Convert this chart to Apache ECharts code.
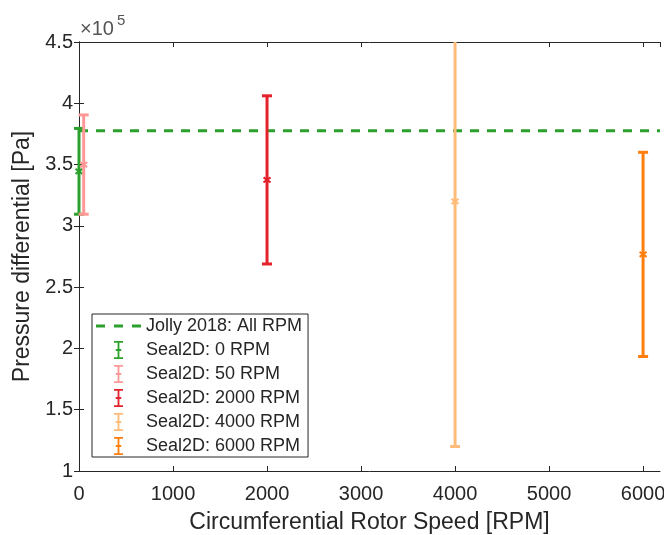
<!DOCTYPE html>
<html>
<head>
<meta charset="utf-8">
<script src="https://cdn.jsdelivr.net/npm/echarts@6/dist/echarts.min.js"></script>
<style>
  html, body { margin: 0; padding: 0; background: #fff; }
  #chart { width: 664px; height: 535px; }
</style>
</head>
<body>
<div id="chart"></div>
<script>
// Rotor speeds (RPM) of the Seal2D runs
const rpm = [0, 50, 2000, 4000, 6000];
// Mean pressure differential (Pa) and the half-width of each error bar (Pa)
const meanPa = [344500, 350000, 337500, 320000, 276700];
const errPa = [35000, 40500, 68600, 200000, 83300];
const seriesNames = ['Seal2D: 0 RPM', 'Seal2D: 50 RPM', 'Seal2D: 2000 RPM', 'Seal2D: 4000 RPM', 'Seal2D: 6000 RPM'];
// Jolly 2018 reference value, constant over the whole speed range
const jollyName = 'Jolly 2018: All RPM';
const jollyRpm = [0, 6180];
const jollyPa = [377600, 377600];
// Axis ranges and tick steps
const xRange = [0, 6180];
const xStep = 1000;
const yRange = [100000, 450000];
const yStep = 50000;
const yScale = 1e5;

const barColors = ['#2ca02c', '#ff9896', '#e4222b', '#ffbb78', '#ff7f0e'];
const jollyColor = '#2ca02c';
const ink = '#262626';
const font = '"Liberation Sans", Arial, Helvetica, sans-serif';

const chart = echarts.init(document.getElementById('chart'), null, { renderer: 'canvas' });

// Vertical error bar with caps and a small cross at the mean
function renderErrorBar(params, api) {
  const color = api.visual('color');
  const x = api.value(0);
  const cs = params.coordSys;
  const pMean = api.coord([x, api.value(1)]);
  const pLo = api.coord([x, api.value(2)]);
  const pHi = api.coord([x, api.value(3)]);
  const yTop = cs.y, yBot = cs.y + cs.height;
  const hiY = Math.max(pHi[1], yTop);
  const loY = Math.min(pLo[1], yBot);
  const cap = 5;
  const st = { stroke: color, lineWidth: 3, fill: null };
  const kids = [
    { type: 'line', shape: { x1: pMean[0], y1: hiY, x2: pMean[0], y2: loY }, style: st }
  ];
  if (pHi[1] >= yTop) kids.push({ type: 'line', shape: { x1: pHi[0] - cap, y1: pHi[1], x2: pHi[0] + cap, y2: pHi[1] }, style: st });
  if (pLo[1] <= yBot) kids.push({ type: 'line', shape: { x1: pLo[0] - cap, y1: pLo[1], x2: pLo[0] + cap, y2: pLo[1] }, style: st });
  const m = 3.5;
  kids.push({ type: 'polyline', shape: { points: [[pMean[0] - m, pMean[1] - 2.5], [pMean[0] + m, pMean[1] + 2.5]] }, style: { stroke: color, lineWidth: 2, fill: null } });
  kids.push({ type: 'polyline', shape: { points: [[pMean[0] - m, pMean[1] + 2.5], [pMean[0] + m, pMean[1] - 2.5]] }, style: { stroke: color, lineWidth: 2, fill: null } });
  return { type: 'group', children: kids };
}

// Legend glyphs: an error bar and a dashed line segment
const barIcon = 'path://M0,0H10V2H6V9H8V11H6V18H10V20H0V18H4V11H2V9H4V2H0Z';
const dashIcon = 'path://M0,0H9V3H0Z M18,0H27V3H18Z M36,0H45V3H36Z';

const barSeries = rpm.map((r, i) => ({
  name: seriesNames[i],
  type: 'custom',
  xAxisIndex: 0,
  yAxisIndex: 0,
  itemStyle: { color: barColors[i] },
  renderItem: renderErrorBar,
  encode: { x: 0, y: [1, 2, 3] },
  data: [[r, meanPa[i], meanPa[i] - errPa[i], meanPa[i] + errPa[i]]],
  z: 3
}));

const axisCommon = {
  axisLine: { show: true, lineStyle: { color: ink, width: 1 } },
  axisTick: { show: true, inside: true, length: 5, lineStyle: { color: ink } },
  splitLine: { show: false }
};

const option = {
  animation: false,
  backgroundColor: '#fff',
  textStyle: { fontFamily: font },
  grid: { left: 79, right: 4, top: 42, bottom: 64, containLabel: false, outerBoundsMode: 'none' },
  xAxis: [
    Object.assign({
      type: 'value', position: 'bottom', min: xRange[0], max: xRange[1], interval: xStep,
      name: 'Circumferential Rotor Speed [RPM]', nameLocation: 'middle', nameGap: 40,
      nameTextStyle: { fontSize: 23, color: ink, fontFamily: font },
      axisLabel: { fontSize: 20, color: ink, margin: 13, showMaxLabel: false, fontFamily: font, formatter: v => String(v) }
    }, axisCommon),
    Object.assign({
      type: 'value', position: 'top', min: xRange[0], max: xRange[1], interval: xStep,
      axisLabel: { show: false }
    }, axisCommon)
  ],
  yAxis: [
    Object.assign({
      type: 'value', position: 'left', min: yRange[0], max: yRange[1], interval: yStep,
      name: 'Pressure differential [Pa]', nameLocation: 'middle', nameGap: 41, nameRotate: 90,
      nameTextStyle: { fontSize: 23, color: ink, fontFamily: font },
      axisLabel: { fontSize: 20, color: ink, margin: 6, fontFamily: font, formatter: v => String(+(v / yScale).toFixed(2)) }
    }, axisCommon),
    Object.assign({
      type: 'value', position: 'right', min: yRange[0], max: yRange[1], interval: yStep,
      axisLabel: { show: false }
    }, axisCommon)
  ],
  legend: {
    orient: 'vertical',
    left: 92,
    top: 314,
    padding: [3, 6, 2, 4],
    backgroundColor: '#fff',
    borderColor: ink,
    borderWidth: 1,
    borderRadius: 0,
    itemWidth: 45,
    itemHeight: 18,
    itemGap: 6,
    selectedMode: false,
    textStyle: { fontSize: 18, color: ink, fontFamily: font },
    data: [{ name: jollyName, icon: dashIcon }].concat(seriesNames.map(n => ({ name: n, icon: barIcon })))
  },
  graphic: [
    { type: 'text', left: 80, top: 19, style: { text: '×10', fontSize: 20, fill: '#555', fontFamily: font } },
    { type: 'text', left: 117, top: 13, style: { text: '5', fontSize: 15, fill: '#555', fontFamily: font } }
  ],
  series: [
    {
      name: jollyName,
      type: 'line',
      xAxisIndex: 0,
      yAxisIndex: 0,
      showSymbol: false,
      symbol: 'none',
      color: jollyColor,
      lineStyle: { color: jollyColor, width: 3, type: [9, 8] },
      data: jollyRpm.map((x, i) => [x, jollyPa[i]]),
      z: 2
    }
  ].concat(barSeries)
};

chart.setOption(option);
</script>
</body>
</html>
